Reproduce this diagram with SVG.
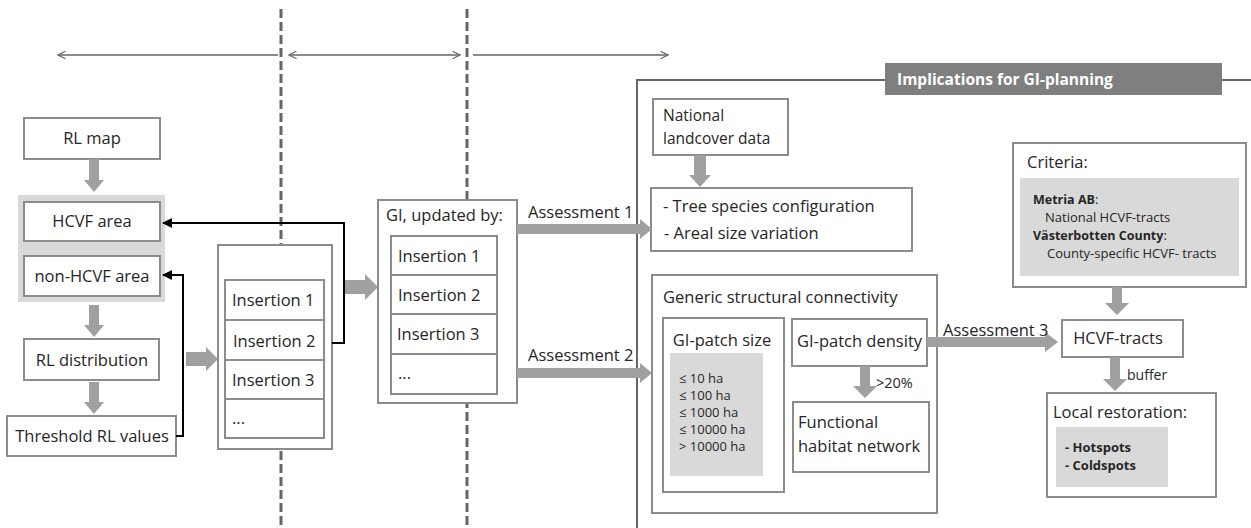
<svg xmlns="http://www.w3.org/2000/svg" width="1251" height="528" viewBox="0 0 1251 528">
<style>
text{font-family:"Open Sans","Liberation Sans",sans-serif;fill:#262626;font-size:16.5px}
.box{fill:#fff;stroke:#8c8c8c;stroke-width:2}
.bg{fill:#d9d9d9}
.ga{fill:#a0a0a0}
.sm{font-size:13px}
.b{font-weight:bold}
.dash{stroke:#666;stroke-width:3;stroke-dasharray:9 4;fill:none}
.thin{stroke:#666;stroke-width:1.5;fill:none}
.blk{stroke:#000;stroke-width:2;fill:none;marker-end:url(#ah)}
</style>
<defs>
<marker id="ah" viewBox="0 0 10 10" refX="9" refY="5" markerWidth="5" markerHeight="5" orient="auto"><path d="M0,0 L10,5 L0,10 z" fill="#000"/></marker>
<marker id="oa" viewBox="0 0 12 12" refX="11" refY="6" markerWidth="9" markerHeight="9" markerUnits="userSpaceOnUse" orient="auto-start-reverse"><path d="M1,1 L11,6 L1,11" fill="none" stroke="#666" stroke-width="1.5"/></marker>
</defs>

<g id="dividers">
<line class="dash" x1="281" y1="9" x2="281" y2="528"/>
<line class="dash" x1="467" y1="9" x2="467" y2="528"/>
<line class="thin" x1="278" y1="55" x2="58" y2="55" marker-end="url(#oa)"/>
<line class="thin" x1="289" y1="55" x2="460" y2="55" marker-start="url(#oa)" marker-end="url(#oa)"/>
<line class="thin" x1="473" y1="55" x2="668" y2="55" marker-end="url(#oa)"/>
</g>

<g id="frame">
<polyline points="637,528 637,80 1251,80" fill="none" stroke="#666" stroke-width="2"/>
<rect x="885" y="63" width="337" height="32" fill="#7f7f7f"/>
<text x="897" y="85" class="b" style="fill:#fff;font-size:15.5px">Implications for GI-planning</text>
</g>

<g id="rl-map"><rect class="box" x="24" y="118" width="136" height="41"/><text x="92" y="144" text-anchor="middle">RL map</text></g>
<g id="hcvf-group">
<rect class="bg" x="18" y="195" width="147" height="107"/>
<g id="hcvf-area"><rect class="box" x="24" y="202" width="136" height="39"/><text x="92" y="227" text-anchor="middle">HCVF area</text></g>
<g id="non-hcvf-area"><rect class="box" x="24" y="256" width="136" height="40"/><text x="92" y="282" text-anchor="middle">non-HCVF area</text></g>
</g>
<g id="rl-distribution"><rect class="box" x="24" y="339" width="135" height="41"/><text x="92" y="366" text-anchor="middle">RL distribution</text></g>
<g id="threshold"><rect class="box" x="7" y="416" width="169" height="40"/><text x="92" y="442" text-anchor="middle">Threshold RL values</text></g>

<g id="insertions">
<rect class="box" x="218" y="245" width="114" height="204"/>
<rect class="box" x="225" y="280" width="99" height="40"/><text x="232" y="306">Insertion 1</text>
<rect class="box" x="225" y="320" width="99" height="40"/><text x="233" y="347">Insertion 2</text>
<rect class="box" x="225" y="360" width="99" height="39"/><text x="232" y="386">Insertion 3</text>
<rect class="box" x="225" y="399" width="99" height="39"/><text x="232" y="424">...</text>
</g>

<g id="gi-updated">
<rect class="box" x="378" y="200" width="139" height="203"/>
<text x="386" y="221">GI, updated by:</text>
<rect class="box" x="391" y="236" width="106" height="39"/><text x="398" y="262">Insertion 1</text>
<rect class="box" x="391" y="275" width="106" height="39"/><text x="398" y="301">Insertion 2</text>
<rect class="box" x="391" y="314" width="106" height="40"/><text x="397" y="340">Insertion 3</text>
<rect class="box" x="391" y="354" width="106" height="40"/><text x="398" y="379">...</text>
</g>

<g id="national-landcover"><rect class="box" x="653" y="99" width="135" height="56"/><text x="663" y="121" style="font-size:15.5px">National</text><text x="663" y="144" style="font-size:15.5px">landcover data</text></g>
<g id="tree-species"><rect class="box" x="651" y="188" width="261" height="63"/><text x="663" y="212">- Tree species configuration</text><text x="664" y="239">- Areal size variation</text></g>

<g id="generic-connectivity">
<rect class="box" x="652" y="275" width="285" height="238"/>
<text x="663" y="303">Generic structural connectivity</text>
<g id="patch-size">
<rect class="box" x="663" y="318" width="121" height="174"/>
<text x="722" y="346" text-anchor="middle">GI-patch size</text>
<rect class="bg" x="670" y="353" width="93" height="123"/>
<text class="sm" x="679" y="383">≤ 10 ha</text>
<text class="sm" x="679" y="400">≤ 100 ha</text>
<text class="sm" x="679" y="417">≤ 1000 ha</text>
<text class="sm" x="679" y="434">≤ 10000 ha</text>
<text class="sm" x="679" y="451">&gt; 10000 ha</text>
</g>
<g id="patch-density"><rect class="box" x="792" y="319" width="135" height="47"/><text x="797" y="347">GI-patch density</text></g>
<g id="functional-network"><rect class="box" x="793" y="402" width="136" height="70"/><text x="798" y="428">Functional</text><text x="798" y="452">habitat network</text></g>
</g>

<g id="criteria">
<rect class="box" x="1013" y="143" width="233" height="144"/>
<text x="1027" y="168">Criteria:</text>
<rect class="bg" x="1020" y="178" width="219" height="98"/>
<text class="sm" x="1033" y="204"><tspan class="b" style="font-size:12.5px">Metria AB</tspan>:</text>
<text class="sm" x="1045" y="222">National HCVF-tracts</text>
<text class="sm" x="1033" y="240"><tspan class="b" style="font-size:12.5px">Västerbotten County</tspan>:</text>
<text class="sm" x="1047" y="258">County-specific HCVF- tracts</text>
</g>
<g id="hcvf-tracts"><rect class="box" x="1062" y="320" width="121" height="37"/><text x="1118" y="344" text-anchor="middle">HCVF-tracts</text></g>
<g id="local-restoration">
<rect class="box" x="1047" y="393" width="169" height="104"/>
<text x="1053" y="418">Local restoration:</text>
<rect class="bg" x="1056" y="427" width="112" height="60"/>
<text class="sm b" x="1065" y="452">- Hotspots</text>
<text class="sm b" x="1065" y="470">- Coldspots</text>
</g>

<g id="connectors">
<polygon class="ga" points="89,159 99,159 99,180 104,180 94,192 84,180 89,180"/>
<polygon class="ga" points="89,305 99,305 99,325 104,325 94,337 84,325 89,325"/>
<polygon class="ga" points="89,382 99,382 99,402 104,402 94,414 84,402 89,402"/>
<polygon class="ga" points="186,352 206,352 206,347 218,359 206,371 206,366 186,366"/>
<polygon class="ga" points="345,280 365,280 365,274 378,287 365,300 365,294 345,294"/>
<polygon class="ga" points="517,224 640,224 640,219 652,229 640,239 640,234 517,234"/>
<text x="528" y="218">Assessment 1</text>
<polygon class="ga" points="517,368 640,368 640,363 652,373 640,383 640,378 517,378"/>
<text x="528" y="361">Assessment 2</text>
<polygon class="ga" points="694,155 706,155 706,175 711,175 700,187 689,175 694,175"/>
<polygon class="ga" points="860,366 870,366 870,386 877,386 865,398 853,386 860,386"/>
<text x="876" y="388" style="font-size:14.5px">&gt;20%</text>
<polygon class="ga" points="927,337 1045,337 1045,332 1058,342 1045,352 1045,347 927,347"/>
<text x="943" y="336">Assessment 3</text>
<polygon class="ga" points="1112,287 1122,287 1122,303 1129,303 1117,315 1105,303 1112,303"/>
<polygon class="ga" points="1110,357 1120,357 1120,379 1127,379 1115,391 1103,379 1110,379"/>
<text x="1127" y="380" style="font-size:14px">buffer</text>
<polyline class="blk" points="332,343 344,343 344,223 163,223"/>
<polyline class="blk" points="176,436 183,436 183,275 163,275"/>
</g>
</svg>
